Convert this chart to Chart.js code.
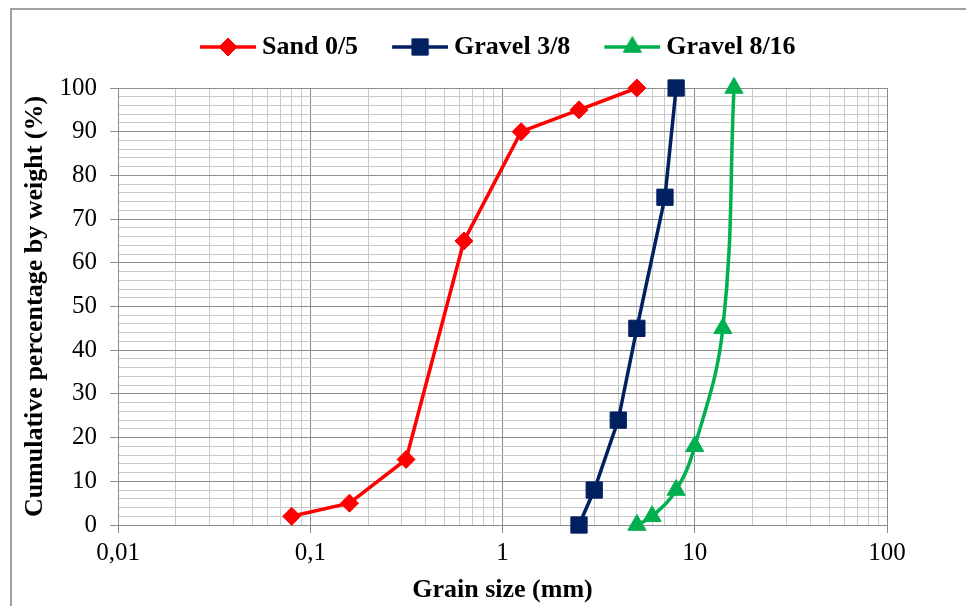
<!DOCTYPE html>
<html>
<head>
<meta charset="utf-8">
<script src="https://cdn.jsdelivr.net/npm/chart.js@4.4.1/dist/chart.umd.min.js"></script>
<style>
  html, body { margin: 0; padding: 0; background: #fff; }
  #wrap { width: 966px; height: 606px; position: relative; }
</style>
</head>
<body>
<div id="wrap"><canvas id="grading"></canvas></div>
<script>
// Grading curves (sieve size in mm, cumulative % passing)
const seriesNames = ['Sand 0/5', 'Gravel 3/8', 'Gravel 8/16'];
const sandSize = [0.08, 0.16, 0.315, 0.63, 1.25, 2.5, 5];
const sandPass = [2, 5, 15, 65, 90, 95, 100];
const gravel38Size = [2.5, 3, 4, 5, 7, 8];
const gravel38Pass = [0, 8, 24, 45, 75, 100];
const gravel816Size = [5, 6, 8, 10, 14, 16];
const gravel816Pass = [0, 2, 8, 18, 45, 100];

const xDecades = [0.01, 0.1, 1, 10, 100];
const xTickLabels = ['0,01', '0,1', '1', '10', '100'];

const FONT = "'Liberation Serif', 'Times New Roman', serif";
const majorGrid = '#8c8c8c';
const minorGrid = '#c9c9c9';
const colors = ['#ff0000', '#002060', '#00b050'];

// log grid: 1..9 in every decade
const xGridTicks = [];
xDecades.slice(0, -1).forEach(d => {
  for (let m = 1; m < 10; m++) xGridTicks.push(+(d * m).toPrecision(3));
});
xGridTicks.push(xDecades[xDecades.length - 1]);

function toPoints(xs, ys) {
  return xs.map((x, i) => ({ x: x, y: ys[i] }));
}

// little line + marker picture for each legend entry
function legendIcon(color, style, radius) {
  const c = document.createElement('canvas');
  c.width = 87; c.height = 22;
  const g = c.getContext('2d');
  g.strokeStyle = color;
  g.fillStyle = color;
  g.lineWidth = 3.5;
  g.beginPath(); g.moveTo(31, 11); g.lineTo(87, 11); g.stroke();
  g.lineWidth = 1;
  Chart.helpers.drawPoint(g, { pointStyle: style, radius: radius, borderWidth: 1, rotation: 0 }, 59, 11);
  return c;
}

const markers = [['rectRot', 9], ['rect', 11.5], ['triangle', 10.5]];
const legendIcons = markers.map((m, i) => legendIcon(colors[i], m[0], m[1]));

// Excel-like frame, only top and left edges show
const frame = {
  id: 'frame',
  beforeDraw(chart) {
    const g = chart.ctx;
    g.save();
    g.fillStyle = '#fff';
    g.fillRect(0, 0, chart.width, chart.height);
    g.strokeStyle = '#a0a0a0';
    g.lineWidth = 2;
    g.beginPath();
    g.moveTo(chart.width, 9);
    g.lineTo(11, 9);
    g.lineTo(11, chart.height);
    g.stroke();
    g.restore();
  }
};

// move the legend row to where it sits in the original
const legendPlace = {
  id: 'legendPlace',
  afterLayout(chart) {
    const lg = chart.legend;
    lg.left = 166;
    lg.top -= 18;
    lg.bottom -= 18;
  }
};

const datasets = [
  { data: toPoints(sandSize, sandPass), tension: 0 },
  { data: toPoints(gravel38Size, gravel38Pass), tension: 0 },
  { data: toPoints(gravel816Size, gravel816Pass), tension: 0.4 }
].map((d, i) => Object.assign(d, {
  label: seriesNames[i],
  showLine: true,
  borderColor: colors[i],
  backgroundColor: colors[i],
  borderWidth: 3.5,
  pointStyle: markers[i][0],
  pointRadius: markers[i][1],
  pointHoverRadius: markers[i][1],
  pointBorderWidth: 1,
  clip: false
}));

new Chart(document.getElementById('grading'), {
  type: 'scatter',
  data: { datasets: datasets },
  options: {
    responsive: true,
    maintainAspectRatio: false,
    animation: false,
    layout: { padding: { left: 12, right: 79, top: 42, bottom: 0 } },
    plugins: {
      tooltip: { enabled: false },
      legend: {
        position: 'top',
        align: 'start',
        labels: {
          usePointStyle: true,
          pointStyleWidth: 73,
          padding: 10,
          color: '#000',
          font: { family: FONT, size: 26, weight: 'bold' },
          generateLabels: (chart) => {
            const items = Chart.defaults.plugins.legend.labels.generateLabels(chart);
            items.forEach((it, i) => { it.pointStyle = legendIcons[i]; });
            return items;
          }
        }
      }
    },
    scales: {
      x: {
        type: 'logarithmic',
        min: 0.01,
        max: 100,
        afterBuildTicks: (s) => { s.ticks = xGridTicks.map(v => ({ value: v })); },
        afterFit: (s) => { s.height = 81; },
        ticks: {
          autoSkip: false,
          maxRotation: 0,
          padding: 5,
          color: '#000',
          font: { family: FONT, size: 25 },
          callback: (v) => {
            const i = xDecades.indexOf(v);
            return i >= 0 ? xTickLabels[i] : '';
          }
        },
        grid: {
          color: (c) => xDecades.includes(c.tick.value) ? majorGrid : minorGrid,
          tickColor: (c) => xDecades.includes(c.tick.value) ? majorGrid : 'rgba(0,0,0,0)',
          tickLength: 8,
          lineWidth: 1
        },
        border: { color: majorGrid, width: 1 },
        title: {
          display: true,
          text: 'Grain size (mm)',
          color: '#000',
          font: { family: FONT, size: 26, weight: 'bold' },
          padding: { top: 0, bottom: 0 }
        }
      },
      y: {
        min: 0,
        max: 100,
        afterFit: (s) => { s.width = 106; },
        ticks: {
          stepSize: 2,
          autoSkip: false,
          padding: 13,
          color: '#000',
          font: { family: FONT, size: 25 },
          callback: (v) => v % 10 === 0 ? String(v) : ''
        },
        grid: {
          color: (c) => c.tick.value % 10 === 0 ? majorGrid : minorGrid,
          tickColor: (c) => c.tick.value % 10 === 0 ? majorGrid : 'rgba(0,0,0,0)',
          tickLength: 8,
          lineWidth: 1
        },
        border: { color: majorGrid, width: 1 },
        title: {
          display: true,
          text: 'Cumulative percentage by weight (%)',
          color: '#000',
          font: { family: FONT, size: 26, weight: 'bold' },
          padding: { top: 8, bottom: 0 }
        }
      }
    }
  },
  plugins: [frame, legendPlace]
});
</script>
</body>
</html>
